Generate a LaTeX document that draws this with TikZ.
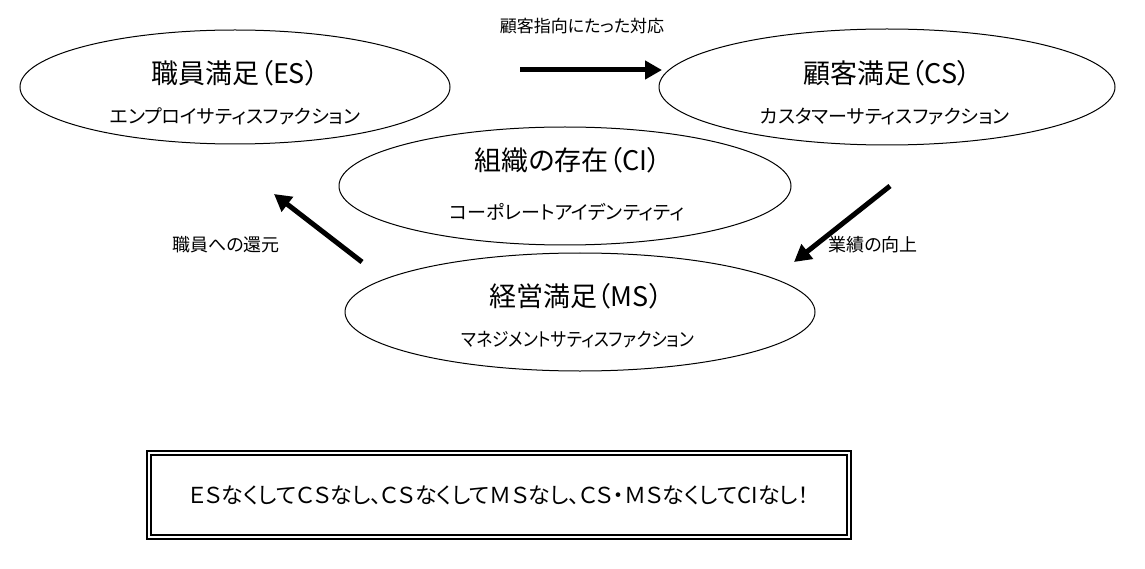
\documentclass[tikz,border=0pt]{standalone}
\usepackage{fontspec}
\setmainfont[RawFeature=+palt]{Noto Sans CJK JP}
\usetikzlibrary{shapes.geometric,arrows.meta}
\begin{document}
\begin{tikzpicture}[x=1pt,y=-1pt,
  bubble/.style={draw, ellipse, line width=1pt, inner sep=0pt},
  title/.style={font=\fontsize{27}{31}\selectfont, inner sep=0pt},
  sub/.style={font=\fontsize{19}{23}\selectfont, inner sep=0pt},
  lab/.style={font=\fontsize{18}{22}\selectfont, inner sep=0pt},
  bigarrow/.style={line width=5pt, -{Triangle[length=17pt,width=18pt]}},
  framebox/.style={draw, double, double distance=2.2pt, line width=1.5pt, inner sep=0pt}
]
\useasboundingbox (0,0) rectangle (1145,569);
% ellipses
\node[bubble, minimum width=430pt, minimum height=114pt] (es) at (235,87) {};
\node[bubble, minimum width=456pt, minimum height=116pt] (cs) at (887,87) {};
\node[bubble, minimum width=452pt, minimum height=118pt] (ci) at (565,186) {};
\node[bubble, minimum width=470pt, minimum height=118pt] (ms) at (580,312) {};
% texts
\node[title] (est) at (235,73) {職員満足（ES）};
\node[sub] (ess) at (235,116) {エンプロイサティスファクション};
\node[title] (cst) at (887,73) {顧客満足（CS）};
\node[sub] (css) at (885,117) {カスタマーサティスファクション};
\node[title] (cit) at (568,160) {組織の存在（CI）};
\node[sub] (cis) at (567,212) {コーポレートアイデンティティ};
\node[title] (mst) at (576,296) {経営満足（MS）};
\node[sub, xscale=0.88, transform shape] (mss) at (578,340) {マネジメントサティスファクション};
% labels
\node[lab, font=\fontsize{17}{21}\selectfont] (l1) at (582,26) {顧客指向にたった対応};
\node[lab] (l2) at (226,245) {職員への還元};
\node[lab] (l3) at (873,245) {業績の向上};
% arrows
\coordinate (a1s) at (520,70);
\coordinate (a1e) at (662,70);
\coordinate (a2s) at (362,262);
\coordinate (a2e) at (274,194);
\coordinate (a3s) at (890,186);
\coordinate (a3e) at (794,262);
\draw[bigarrow] (a1s) -- (a1e);
\draw[bigarrow] (a2s) -- (a2e);
\draw[bigarrow] (a3s) -- (a3e);
% bottom box
\node[framebox, minimum width=700pt, minimum height=84pt, font=\fontsize{22}{26}\selectfont] (box) at (499,495) {ＥＳなくしてＣＳなし、ＣＳなくしてＭＳなし、ＣＳ・ＭＳなくしてCIなし！};
\end{tikzpicture}
\end{document}
